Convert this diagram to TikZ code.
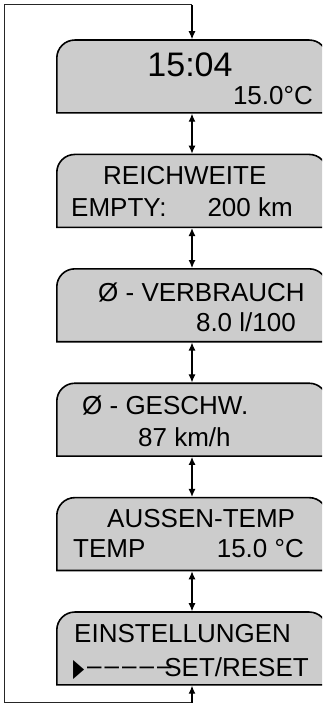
\documentclass[tikz,border=0pt]{standalone}
\usepackage{fontspec}
\setmainfont{Liberation Sans}
\newfontfamily\symfont{DejaVu Sans}
\usetikzlibrary{arrows.meta}
\begin{document}
\begin{tikzpicture}[x=1pt,y=1pt,
  boxnode/.style={minimum width=270pt,minimum height=72.5pt,inner sep=0pt},
  boxline/.style={draw=black,line width=1.6pt,fill=black!20},
  txt/.style={inner sep=0pt,font=\fontsize{26}{30}\selectfont},
  big/.style={inner sep=0pt,font=\fontsize{34}{40}\selectfont},
  tip/.tip={Latex[length=8pt,width=7pt]},
  link/.style={line width=1.1pt,tip-tip,shorten <=0.8pt,shorten >=0.8pt},
  loopline/.style={line width=1pt,draw=black!85},
  looparrow/.style={line width=1.1pt,-tip,shorten >=0.8pt}
]
\useasboundingbox (0,0) rectangle (322,708);
\clip (0,0) rectangle (322,708);
\foreach \i/\c in {1/76.5,2/190.9,3/305.3,4/419.7,5/534.1,6/648.5}
  \node[boxnode] (b\i) at (192,708-\c) {};
\foreach \i in {1,...,6}
  \draw[boxline] (b\i.south west) -- ([yshift=-18pt]b\i.north west)
    arc[start angle=180,end angle=90,radius=18pt]
    -- ([xshift=-18pt]b\i.north east)
    arc[start angle=90,end angle=0,radius=18pt]
    -- (b\i.south east) -- cycle;
\foreach \i/\j in {1/2,2/3,3/4,4/5,5/6}
  \draw[link] (b\i.south) -- (b\j.north);
\coordinate (lb) at (192,708-703);
\coordinate (ll) at (4,708-703);
\coordinate (lt) at (4,708-5);
\coordinate (lr) at (192,708-5);
\draw[loopline] (lb) -- (ll) -- (lt) -- (lr);
\draw[looparrow] (lr) -- (b1.north);
\draw[looparrow] (lb) -- (b6.south);
% texts
\node[big,anchor=base] (t11) at (190,708-77) {15:04};
\node[txt,anchor=base east] (t12) at (313,708-105) {15.0°C};
\node[txt,anchor=base west] (t21) at (103,708-185) {REICHWEITE};
\node[txt,anchor=base west] (t22) at (71,708-217) {EMPTY:};
\node[txt,anchor=base east] (t23) at (293,708-217) {200 km};
\node[txt,anchor=base east] (t31) at (305,708-302) {Ø - VERBRAUCH};
\node[txt,anchor=base east] (t32) at (296,708-332) {8.0 l/100};
\node[txt,anchor=base west] (t41) at (82,708-415) {Ø - GESCHW.};
\node[txt,anchor=base west] (t42) at (138,708-447) {87 km/h};
\node[txt,anchor=base west] (t51) at (107,708-528) {AUSSEN-TEMP};
\node[txt,anchor=base west] (t52) at (73,708-558) {TEMP};
\node[txt,anchor=base east] (t53) at (304,708-558) {15.0 °C};
\node[txt,anchor=base west] (t61) at (74,708-643) {EINSTELLUNGEN};
\node[inner sep=0pt,anchor=base west,font=\symfont\fontsize{25}{28}\selectfont] (t63) at (73,708-677) {\scalebox{0.58}[1]{▶}};
\node[txt,anchor=base west] (t64) at (87,708-677) {\raisebox{2pt}{–\kern3pt–\kern3pt–\kern3pt–\kern3pt–}};
\node[txt,anchor=base east] (t62) at (309,708-677) {SET/RESET};
\end{tikzpicture}
\end{document}
